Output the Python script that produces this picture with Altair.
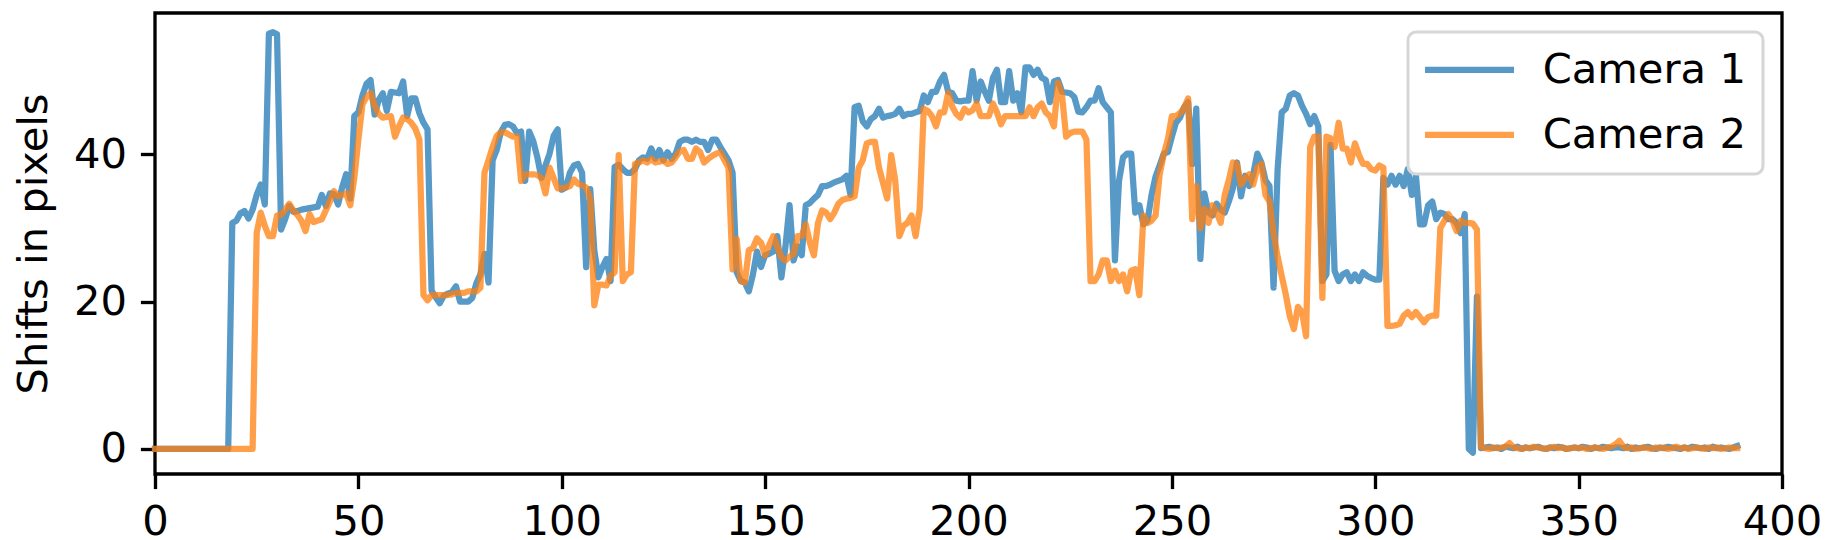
import altair as alt
import pandas as pd

series_names = ["Camera 1", "Camera 2"]
series_colors = ["#1f77b4", "#ff7f0e"]
x_ticks = [0, 50, 100, 150, 200, 250, 300, 350, 400]
y_ticks = [0, 20, 40]

cam1 = [
    0, 0, 0, 0, 0, 0, 0, 0, 0, 0,
    0, 0, 0, 0, 0, 0, 0, 0, 0, 30.7,
    31.0, 32.0, 32.3, 31.3, 32.5, 34.5, 35.9, 33.2, 56.4, 56.6,
    56.3, 29.8, 31.2, 33.0, 32.2, 32.3, 32.5, 32.6, 32.7, 32.8,
    32.9, 34.5, 33.0, 34.7, 34.6, 33.2, 35.5, 37.3, 34.0, 45.2,
    45.7, 48.0, 49.6, 50.1, 45.4, 47.4, 48.3, 45.9, 48.5, 48.4,
    48.3, 49.9, 45.2, 47.6, 47.6, 45.6, 44.3, 43.4, 21.5, 20.6,
    19.8, 20.8, 21.1, 21.3, 22.1, 20.0, 20.0, 20.0, 20.5, 22.5,
    23.7, 26.5, 22.6, 39.2, 40.6, 43.0, 44.0, 44.1, 43.8, 42.9,
    43.1, 36.4, 43.1, 41.8, 39.6, 36.8, 38.5, 40.1, 42.5, 43.4,
    35.2, 35.5, 37.5, 38.5, 38.7, 37.5, 24.7, 35.3, 27.0, 23.3,
    24.7, 25.8, 22.8, 38.3, 38.6, 38.0, 37.5, 37.5, 38.0, 39.2,
    39.6, 39.4, 40.8, 39.4, 40.6, 39.2, 40.3, 39.4, 40.1, 41.7,
    42.0, 42.0, 41.7, 42.0, 41.7, 41.7, 40.6, 42.0, 42.0, 41.0,
    40.1, 39.2, 37.5, 24.0, 22.8, 22.6, 21.4, 23.7, 26.8, 24.7,
    26.3, 26.5, 26.8, 28.9, 23.3, 27.5, 33.1, 25.6, 27.5, 26.3,
    33.1, 33.4, 34.0, 34.5, 35.7, 35.7, 35.9, 36.2, 36.4, 36.6,
    37.1, 34.5, 46.4, 46.6, 44.5, 43.8, 44.8, 45.2, 46.2, 45.0,
    45.2, 45.3, 45.5, 46.2, 45.2, 45.5, 45.5, 45.7, 45.9, 48.0,
    47.1, 48.5, 48.5, 49.9, 50.8, 48.5, 48.3, 47.3, 47.2, 47.3,
    47.3, 51.3, 47.3, 49.9, 48.5, 47.3, 50.4, 51.5, 47.1, 47.1,
    51.3, 47.3, 48.3, 45.7, 51.8, 51.8, 50.8, 51.5, 50.4, 50.1,
    47.1, 49.9, 50.1, 48.5, 48.4, 48.3, 47.8, 45.8, 45.7, 46.4,
    47.3, 47.3, 49.0, 47.1, 46.4, 45.7, 25.6, 36.4, 39.6, 40.1,
    40.1, 32.1, 33.1, 30.5, 31.0, 34.5, 37.0, 38.5, 40.1, 40.3,
    42.4, 44.3, 45.0, 46.4, 47.1, 38.7, 46.2, 25.8, 34.7, 32.1,
    31.7, 33.3, 32.5, 32.1, 33.6, 35.4, 38.9, 34.3, 37.1, 35.7,
    37.3, 40.1, 38.9, 36.5, 35.7, 21.9, 38.0, 45.7, 46.2, 48.0,
    48.3, 48.0, 46.6, 45.5, 44.1, 45.2, 43.8, 22.8, 23.7, 41.3,
    24.2, 22.8, 23.7, 24.0, 22.8, 23.7, 22.8, 24.0, 23.5, 23.2,
    23.0, 23.0, 36.8, 35.9, 37.1, 35.9, 37.1, 35.7, 38.0, 34.5,
    37.1, 30.5, 30.5, 33.1, 33.6, 31.2, 32.1, 31.9, 31.2, 31.2,
    30.7, 29.3, 31.9, 0.0, -0.5, 20.7, 0.1, 0.2, 0.3, 0.1,
    0.2, 0.0, 0.3, 0.2, 0.1, 0.3, 0.0, 0.2, 0.1, 0.2,
    0.3, 0.1, 0.0, 0.2, 0.1, 0.3, 0.2, 0.0, 0.1, 0.2,
    0.1, 0.3, 0.2, 0.0, 0.2, 0.1, 0.3, 0.2, 0.1, 0.2,
    0.2, 0.1, 0.3, 0.0, 0.2, 0.1, 0.2, 0.3, 0.1, 0.0,
    0.2, 0.1, 0.3, 0.2, 0.1, 0.0, 0.2, 0.1, 0.3, 0.2,
    0.1, 0.2, 0.0, 0.3, 0.1, 0.2, 0.1, 0.0, 0.2, 0.4,
]

cam2 = [
    0, 0, 0, 0, 0, 0, 0, 0, 0, 0,
    0, 0, 0, 0, 0, 0, 0, 0, 0, 0,
    0, 0, 0, 0, 0, 29.3, 32.1, 30.3, 28.9, 28.9,
    31.7, 31.8, 32.5, 33.3, 32.4, 31.8, 31.0, 29.6, 31.9, 30.8,
    31.0, 31.2, 32.4, 33.6, 35.0, 34.3, 34.5, 34.7, 33.1, 36.8,
    42.0, 46.8, 47.8, 48.3, 46.6, 45.5, 45.0, 45.1, 45.2, 42.4,
    43.8, 45.0, 44.8, 44.3, 43.5, 42.0, 20.9, 20.2, 20.9, 20.9,
    20.9, 20.9, 20.9, 21.0, 21.2, 21.2, 21.2, 21.4, 21.4, 21.4,
    21.9, 37.5, 39.2, 41.0, 42.5, 43.0, 43.0, 42.7, 42.4, 42.4,
    36.4, 37.3, 37.3, 37.3, 37.2, 36.8, 34.7, 38.2, 36.8, 35.4,
    35.4, 35.5, 35.7, 36.6, 36.0, 35.8, 35.5, 34.0, 19.5, 22.3,
    22.3, 22.2, 23.5, 24.0, 39.9, 22.8, 23.7, 24.0, 38.7, 38.9,
    39.2, 38.9, 39.4, 38.9, 39.0, 39.2, 38.7, 38.9, 39.6, 40.4,
    40.6, 39.4, 39.4, 40.8, 40.3, 38.9, 39.4, 39.8, 40.1, 40.3,
    39.2, 38.2, 24.4, 28.5, 22.8, 22.6, 27.0, 27.3, 28.6, 28.0,
    26.3, 27.7, 28.9, 27.5, 26.0, 25.6, 26.1, 26.5, 28.9, 28.9,
    30.5, 28.0, 26.3, 30.7, 32.4, 32.1, 31.2, 32.1, 33.3, 33.8,
    34.0, 34.1, 34.3, 38.2, 39.2, 41.5, 41.7, 41.7, 38.2, 36.1,
    34.0, 39.9, 36.4, 28.9, 30.3, 30.7, 31.7, 28.9, 32.6, 46.2,
    45.9, 45.2, 43.8, 45.7, 45.7, 48.3, 46.5, 45.5, 45.0, 46.2,
    45.7, 46.0, 46.9, 45.2, 45.2, 45.2, 46.9, 45.7, 44.1, 45.2,
    45.2, 45.2, 45.2, 45.2, 45.2, 46.4, 45.2, 46.4, 46.9, 45.7,
    45.2, 43.8, 49.7, 48.0, 42.4, 42.9, 43.1, 43.1, 43.1, 42.0,
    22.8, 22.8, 23.7, 25.6, 25.6, 22.8, 24.2, 22.8, 23.7, 21.4,
    24.2, 24.4, 20.9, 31.7, 30.7, 31.0, 31.7, 37.3, 40.0, 42.0,
    45.2, 45.2, 45.6, 46.3, 47.6, 31.2, 35.7, 30.0, 32.6, 30.7,
    33.1, 32.1, 30.7, 34.5, 36.5, 38.9, 38.7, 35.9, 36.8, 37.3,
    35.9, 38.2, 38.7, 34.5, 33.6, 29.3, 26.1, 23.5, 21.0, 18.0,
    16.3, 19.3, 18.6, 15.3, 41.0, 42.4, 42.4, 20.5, 42.4, 42.2,
    41.0, 44.3, 40.8, 40.8, 38.9, 41.5, 39.9, 38.7, 38.7, 38.0,
    37.8, 38.5, 38.2, 16.7, 16.7, 16.8, 17.0, 18.1, 18.6, 17.9,
    18.6, 17.9, 17.2, 17.9, 18.1, 18.1, 30.0, 31.0, 31.9, 31.0,
    29.6, 31.0, 30.7, 30.7, 30.6, 29.8, 0.3, 0.1, 0.0, 0.2,
    0.1, 0.2, 0.3, 0.8, 0.2, 0.1, 0.0, 0.2, 0.1, 0.3,
    0.2, 0.1, 0.0, 0.2, 0.3, 0.1, 0.2, 0.0, 0.1, 0.2,
    0.1, 0.2, 0.0, 0.1, 0.2, 0.1, 0.0, 0.2, 0.3, 0.6,
    1.1, 0.3, 0.1, 0.2, 0.0, 0.1, 0.2, 0.1, 0.0, 0.2,
    0.1, 0.2, 0.0, 0.1, 0.3, 0.1, 0.2, 0.0, 0.1, 0.2,
    0.1, 0.0, 0.2, 0.1, 0.2, 0.0, 0.1, 0.2, 0.1, 0.1,
]

rows = []
for name, vals in zip(series_names, [cam1, cam2]):
    for i, v in enumerate(vals):
        rows.append({"frame": i, "shift": v, "camera": name})
df = pd.DataFrame(rows)

FONT = "DejaVu Sans"
FS = 41.67

chart = (
    alt.Chart(df)
    .mark_line(strokeWidth=6.25, opacity=0.75, strokeJoin="round", strokeCap="square")
    .encode(
        x=alt.X(
            "frame:Q",
            scale=alt.Scale(domain=[0, 400], nice=False, zero=False),
            axis=alt.Axis(
                values=x_ticks, title=None, grid=False, domain=False,
                tickSize=14.6, tickWidth=3.33, tickColor="black",
                labelFont=FONT, labelFontSize=FS, labelColor="black",
                labelPadding=13, labelFlush=False, labelOverlap=False,
            ),
        ),
        y=alt.Y(
            "shift:Q",
            scale=alt.Scale(domain=[-3.4, 59.2], nice=False, zero=False),
            axis=alt.Axis(
                values=y_ticks, title="Shifts in pixels", grid=False, domain=False,
                tickSize=14.6, tickWidth=3.33, tickColor="black",
                labelFont=FONT, labelFontSize=FS, labelColor="black",
                labelPadding=14,
                titleFont=FONT, titleFontSize=FS, titleFontWeight="normal",
                titleColor="black", titleX=-109, titleBaseline="alphabetic",
            ),
        ),
        color=alt.Color(
            "camera:N",
            scale=alt.Scale(domain=series_names, range=series_colors),
            legend=alt.Legend(
                title=None, orient="none", legendX=1253, legendY=19,
                direction="vertical", symbolType="M-4,0H4", symbolSize=495,
                symbolOffset=23.7,
                symbolStrokeWidth=6.25, symbolOpacity=0.75,
                labelFont=FONT, labelFontSize=FS, labelColor="black",
                labelOffset=52.3, labelLimit=500, padding=17, rowPadding=22,
                strokeColor="#d6d6d6", fillColor="rgba(255,255,255,0.8)",
                cornerRadius=8,
            ),
        ),
    )
    .properties(
        width=1627,
        height=461,
        padding={"left": 147, "top": 5, "right": 40, "bottom": 80},
        autosize=alt.AutoSizeParams(type="none"),
        background="white",
    )
    .configure_view(stroke="black", strokeWidth=3.33)
    .configure_legend(strokeWidth=3)
)

chart.save("out.html", embed_options={"renderer": "svg", "actions": False})
